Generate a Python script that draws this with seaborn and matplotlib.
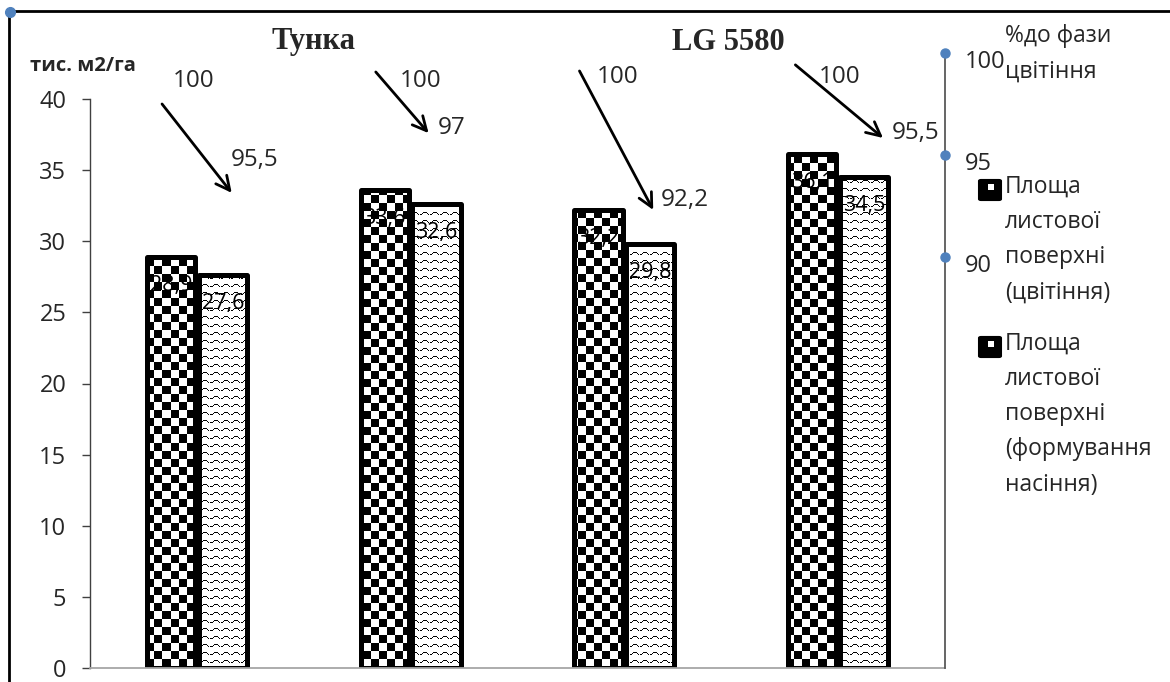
import matplotlib
matplotlib.use("Agg")
import matplotlib.pyplot as plt
from matplotlib.patches import FancyBboxPatch, Rectangle
from matplotlib.lines import Line2D
import numpy as np
import pandas as pd
import seaborn as sns

# data
groups = ["Тунка-1", "Тунка-2", "LG 5580-1", "LG 5580-2"]
varieties = ["Тунка", "LG 5580"]
series = ["Площа листової поверхні (цвітіння)",
          "Площа листової поверхні (формування насіння)"]
area_flowering = [28.9, 33.6, 32.2, 36.1]
area_seed = [27.6, 32.6, 29.8, 34.5]
pct_flowering = [100, 100, 100, 100]
pct_seed = [95.5, 97, 92.2, 95.5]
pct_ticks = [90, 95, 100]

W, H = 1170, 682
sns.set_style("white")
plt.rcParams["font.family"] = ["Open Sans", "DejaVu Sans"]

df = pd.DataFrame({
    "group": groups * 2,
    "area": area_flowering + area_seed,
    "phase": [series[0]] * 4 + [series[1]] * 4,
})

fig = plt.figure(figsize=(W / 100, H / 100), dpi=100)
ax_l, ax_b, ax_w, ax_h = 90 / W, 14 / H, 855 / W, 569 / H
ax = fig.add_axes([ax_l, ax_b, ax_w, ax_h])

sns.barplot(data=df, x="group", y="area", hue="phase", order=groups,
            hue_order=series, palette=["white", "white"], saturation=1,
            width=0.485, gap=0.07, edgecolor="black", linewidth=3.6,
            legend=False, ax=ax, zorder=2)

# fill textures: checkerboard for flowering, small waves for seed phase
px_h, px_w = 569, 855
yy, xx = np.mgrid[0:px_h, 0:px_w]
checker = ((yy // 8 + xx // 8) % 2).astype(float)
tile = np.zeros((8, 10))
tile[1, 3:7] = 1
tile[2, [2, 7]] = 1
tile[3, [0, 1, 8]] = 1
waves = np.tile(tile, (px_h // 8 + 1, px_w // 10 + 1))[:px_h, :px_w]

for cont, tex in zip(ax.containers, [checker, waves]):
    for bar in cont:
        bar.set_facecolor("none")
        bar.set_joinstyle("round")
        im = ax.imshow(tex, extent=(-0.5, 3.5, 0, 40), aspect="auto",
                       cmap="binary", vmin=0, vmax=1,
                       interpolation="nearest", zorder=1)
        im.set_clip_path(bar)
ax.set_xlim(-0.5, 3.5)
ax.set_ylim(0, 40)

for cont, vals in zip(ax.containers, [area_flowering, area_seed]):
    ax.bar_label(cont, labels=[f"{v:.1f}".replace(".", ",") for v in vals],
                 padding=-28, fontsize=15.5, color="black", zorder=5)

ax.set_xlabel("")
ax.set_ylabel("")
ax.set_xticks(range(4))
ax.set_xticklabels([])
ax.set_yticks(range(0, 45, 5))
ax.tick_params(axis="x", length=0)
ax.tick_params(axis="y", length=6, width=1, color="#404040", pad=11,
               labelsize=17, left=True)
for s in ["top", "right"]:
    ax.spines[s].set_visible(False)
ax.spines["left"].set_color("#404040")
ax.spines["left"].set_linewidth(1)
ax.spines["bottom"].set_color("#a6a6a6")
ax.spines["bottom"].set_linewidth(1.3)

# arrows: 100 % at flowering -> % at seed formation
arrow_start = [(-0.163, 39.65), (-0.163, 41.9), (-0.21, 41.97), (-0.2, 42.4)]
arrow_end = [(0.163, 33.4), (0.084, 37.6), (0.135, 32.2), (0.21, 37.26)]
start_lab = [(-0.014, 41.25), (0.047, 41.3), (-0.033, 41.55), (0.005, 41.55)]
end_lab = [(0.27, 35.7), (0.19, 37.96), (0.285, 32.9), (0.364, 37.6)]

def fmt(v):
    return f"{v:g}".replace(".", ",")

for i in range(4):
    ax.annotate("", xy=(i + arrow_end[i][0], arrow_end[i][1]),
                xytext=(i + arrow_start[i][0], arrow_start[i][1]),
                arrowprops=dict(arrowstyle="->,head_length=1.0,head_width=0.5",
                                lw=2, color="black", shrinkA=0, shrinkB=0),
                annotation_clip=False, zorder=6)
    ax.text(i + start_lab[i][0], start_lab[i][1], fmt(pct_flowering[i]),
            ha="center", va="center", fontsize=17.5, clip_on=False)
    ax.text(i + end_lab[i][0], end_lab[i][1], fmt(pct_seed[i]),
            ha="center", va="center", fontsize=17.5, clip_on=False)

# secondary percent scale
ax2 = fig.add_axes([ax_l, ax_b, ax_w, 615 / H])
ax2.patch.set_visible(False)
ax2.set_ylim(69.85, 100)
ax2.set_xlim(0, 1)
ax2.set_xticks([])
ax2.set_yticks([])
for s in ["top", "left", "bottom"]:
    ax2.spines[s].set_visible(False)
ax2.spines["right"].set_color("#595959")
ax2.spines["right"].set_linewidth(1.3)
ax2.plot([1] * len(pct_ticks), pct_ticks, "o", color="#4F81BD",
         markersize=6.5, clip_on=False, zorder=5)
for t in pct_ticks:
    ax2.text(1.0234, t - 0.45, str(t), ha="left", va="center", fontsize=17,
             transform=ax2.get_yaxis_transform(), clip_on=False)

# texts round the plot
fig.text(83 / W, 1 - 66 / H, "тис. м2/га", ha="center", va="center",
         fontsize=14.5, fontweight="bold")
for name, xc in zip(varieties, [314, 728]):
    fig.text(xc / W, 1 - 42 / H, name, ha="center", va="center",
             fontsize=22, fontweight="bold", family="Liberation Serif")

fig.text(1005 / W, 1 - 24 / H, "%до фази\nцвітіння", ha="left", va="top",
         fontsize=16.5, linespacing=1.62)
legend_tops = [175, 332]
legend_txt = ["Площа\nлистової\nповерхні\n(цвітіння)",
              "Площа\nлистової\nповерхні\n(формування\nнасіння)"]
for top, txt in zip(legend_tops, legend_txt):
    fig.text(1005 / W, 1 - top / H, txt, ha="left", va="top",
             fontsize=16.5, linespacing=1.62)
    fig.add_artist(FancyBboxPatch((981 / W, 1 - (top + 24) / H), 18 / W, 18 / H,
                                  boxstyle="round,pad=0.002",
                                  transform=fig.transFigure,
                                  facecolor="black", edgecolor="black"))
    fig.add_artist(Rectangle((988 / W, 1 - (top + 15) / H), 6 / W, 6 / H,
                             transform=fig.transFigure, facecolor="white",
                             edgecolor="none"))

# chart frame and selection handle
fig.add_artist(Line2D([8.5 / W, 8.5 / W], [0, 1 - 10.5 / H], color="black",
                      lw=2, transform=fig.transFigure))
fig.add_artist(Line2D([8.5 / W, 1], [1 - 10.5 / H, 1 - 10.5 / H],
                      color="black", lw=2, transform=fig.transFigure))
fig.add_artist(Line2D([10 / W], [1 - 12 / H], marker="o", markersize=7,
                      color="#4F81BD", transform=fig.transFigure))

fig.savefig("out.png", dpi=100)
